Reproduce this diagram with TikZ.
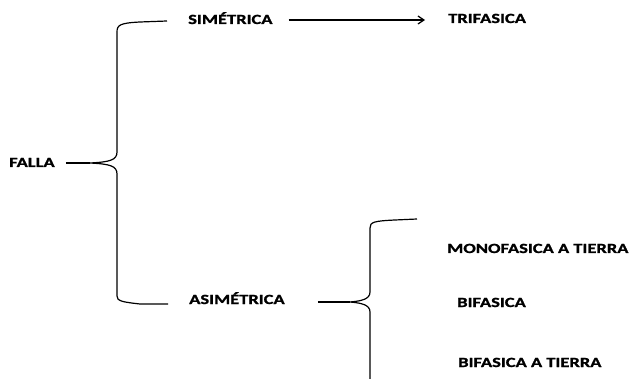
\documentclass[tikz,border=0pt]{standalone}
\usepackage{fontspec}
\setmainfont{Carlito}[FakeStretch=1.32, BoldFeatures={FakeStretch=1.32,FakeBold=1.3}]
\usetikzlibrary{arrows.meta}
\tikzset{
  lab/.style={anchor=base west, inner sep=0pt, font=\fontsize{14pt}{16pt}\selectfont\bfseries},
  ln/.style={line width=1.2pt, black},
}
\begin{document}
\begin{tikzpicture}[x=1pt,y=-1pt]
\useasboundingbox (0,0) rectangle (642,379);
% labels
\node[lab] (falla) at (9,167) {FALLA};
\node[lab] (sim) at (188,24) {SIMÉTRICA};
\node[lab] (tri) at (448,23) {TRIFASICA};
\node[lab] (asim) at (189,304) {ASIMÉTRICA};
\node[lab] (mono) at (447,253) {MONOFASICA A TIERRA};
\node[lab] (bif) at (457,307) {BIFASICA};
\node[lab] (bift) at (458,367) {BIFASICA A TIERRA};
% cusps
\coordinate (c1) at (90,163);
\coordinate (c2) at (350,302);
% big brace
\draw[ln] (167,21) -- (140,22) .. controls (120,23) and (117,25) .. (117,32)
  -- (117,152) .. controls (117,160) and (110,162) .. (c1)
  .. controls (110,164) and (117,166) .. (117,174)
  -- (117,296) .. controls (117,301) and (122,302) .. (140,304) -- (168,304);
\draw[ln] ([xshift=11pt]falla.east |- c1) -- (c1);
% arrow
\draw[ln,-{Straight Barb[length=6pt,width=8pt]}] ([xshift=16pt]sim.east |- 0,20) -- ([xshift=-23pt]tri.west |- 0,20);
% second brace
\draw[ln] (417,219) -- (395,220) .. controls (374,221) and (370,222) .. (370,228)
  -- (370,292) .. controls (370,299) and (362,301) .. (c2)
  .. controls (362,303) and (370,305) .. (370,312) -- (370,379);
\draw[ln] ([xshift=33pt]asim.east |- c2) -- (c2);
\end{tikzpicture}
\end{document}
